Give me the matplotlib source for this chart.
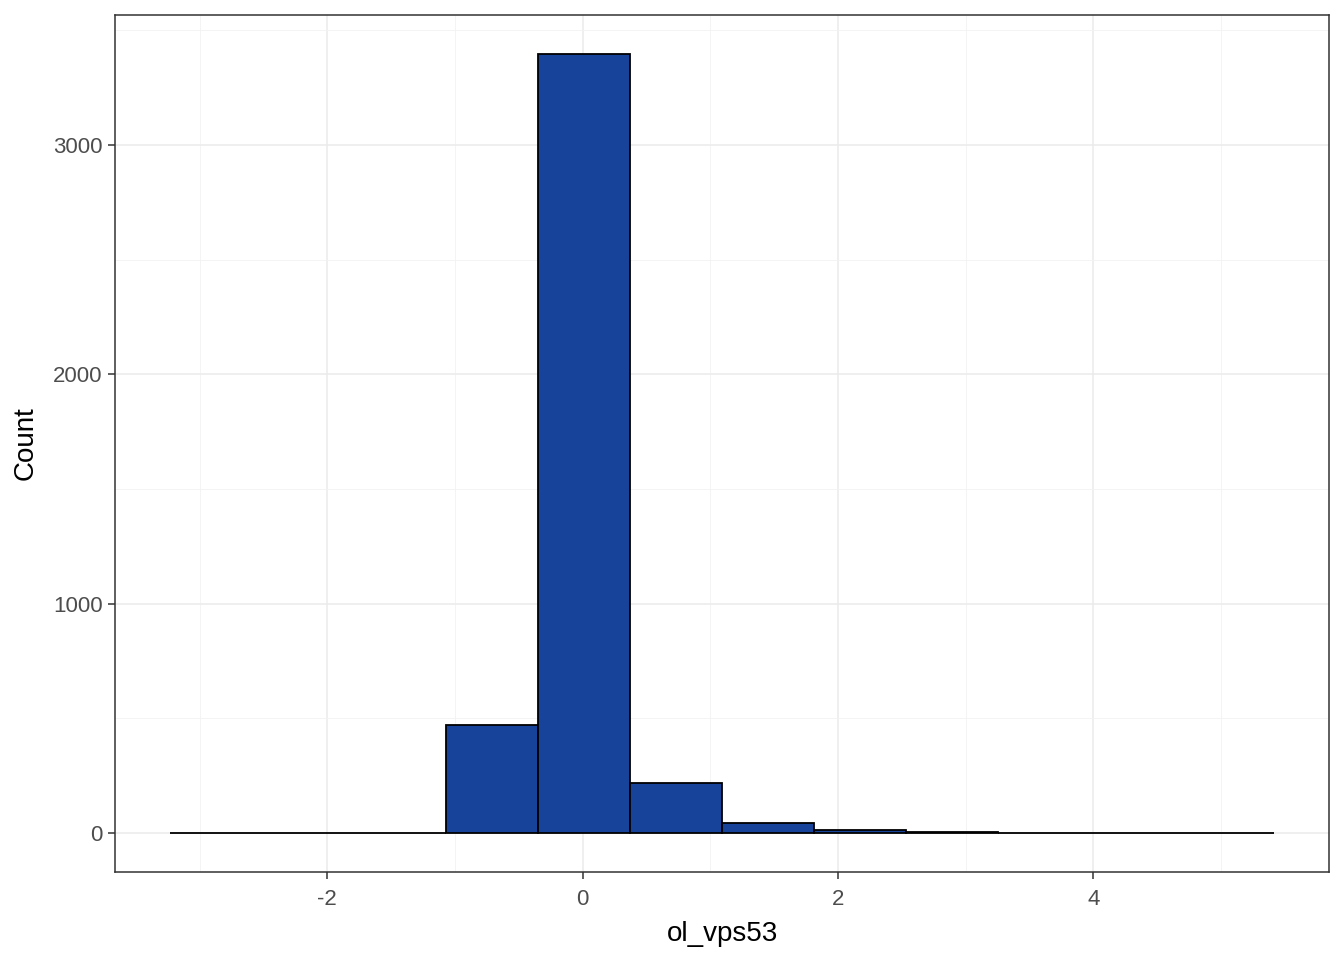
import matplotlib
matplotlib.use("Agg")
import matplotlib.pyplot as plt
import numpy as np

plt.rcParams['font.family'] = ['Liberation Sans', 'DejaVu Sans']

# Histogram data (12 bins)
bin_start = -3.231
bin_width = 0.7203
counts = [0, 0, 0, 470, 3396, 217, 45, 13, 4, 1, 0, 0]
x_ticks = [-2, 0, 2, 4]
x_tick_labels = ["-2", "0", "2", "4"]
y_ticks = [0, 1000, 2000, 3000]
y_tick_labels = ["0", "1000", "2000", "3000"]
x_label = "ol_vps53"
y_label = "Count"

edges = bin_start + bin_width * np.arange(len(counts) + 1)

fig = plt.figure(figsize=(13.44, 9.6), dpi=100)
ax = fig.add_axes([115/1344, 1 - 872/960, (1329-115)/1344, (872-15)/960])

ax.bar(edges[:-1], counts, width=bin_width, align='edge',
       color='#17449A', edgecolor='black', linewidth=1.3, zorder=3)

xmin, xmax = edges[0], edges[-1]
xr = xmax - xmin
ax.set_xlim(xmin - 0.05 * xr, xmax + 0.05 * xr)
ymax = max(counts)
ax.set_ylim(-0.05 * ymax, ymax * 1.05)

ax.set_xticks(x_ticks)
ax.set_xticklabels(x_tick_labels)
ax.set_yticks(y_ticks)
ax.set_yticklabels(y_tick_labels)
ax.set_xticks([-3, -1, 1, 3, 5], minor=True)
ax.set_yticks([500, 1500, 2500, 3500], minor=True)

ax.grid(which='major', color='#EBEBEB', linewidth=1.1, zorder=0)
ax.grid(which='minor', color='#F2F2F2', linewidth=0.6, zorder=0)
ax.set_axisbelow(True)

for s in ax.spines.values():
    s.set_color('#333333')
    s.set_linewidth(1.1)

ax.tick_params(which='major', length=5, width=1.1, color='#333333',
               labelsize=16, labelcolor='#4D4D4D', pad=4)
ax.tick_params(axis='x', which='major', pad=7)
ax.tick_params(which='minor', length=0)

ax.set_xlabel(x_label, fontsize=20, color='black', labelpad=8)
ax.set_ylabel(y_label, fontsize=20, color='black', labelpad=10)

fig.savefig('out.png', dpi=100)
